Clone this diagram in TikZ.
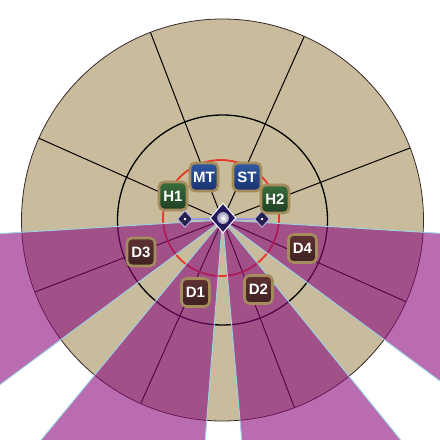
\documentclass[tikz,border=0pt]{standalone}
\usepackage{fontspec}
\setmainfont{Liberation Sans}
\usetikzlibrary{shapes.geometric}

\definecolor{sand}{HTML}{C8BC9C}
\definecolor{rim}{HTML}{3A2A2A}
\definecolor{plum}{HTML}{8A0A7B}
\definecolor{wedgeline}{HTML}{9AD4E6}
\definecolor{ringred}{HTML}{E8382A}
\definecolor{frame}{HTML}{A58C5C}
\definecolor{healtop}{HTML}{3A6E3C}
\definecolor{healbot}{HTML}{1E3E22}
\definecolor{tanktop}{HTML}{2F58A0}
\definecolor{tankbot}{HTML}{1A3270}
\definecolor{dpstop}{HTML}{5E3232}
\definecolor{dpsbot}{HTML}{3E2020}
\definecolor{marker}{HTML}{262050}
\definecolor{bossfill}{HTML}{24185A}
\definecolor{glow}{HTML}{9A98D8}

\tikzset{
  role/.style={draw=frame, line width=2.6pt, rounded corners=5pt, inner sep=0,
    minimum size=28pt, text=white, font=\fontsize{15}{15}\selectfont\bfseries},
  healer/.style={role, top color=healtop, bottom color=healbot},
  tank/.style={role, top color=tanktop, bottom color=tankbot},
  dps/.style={role, top color=dpstop, bottom color=dpsbot},
  pad/.style={diamond, inner sep=0, minimum width=15pt, minimum height=17pt,
    fill=marker, draw=glow!70!white, line width=.9pt,
    path picture={\fill[white] (path picture bounding box.center) circle (1.3pt);}},
  boss/.style={diamond, inner sep=0, minimum width=26pt, minimum height=30pt,
    fill=bossfill, draw=white!85!glow, line width=1.1pt,
    path picture={\shade[inner color=white, outer color=bossfill]
      (path picture bounding box.center) circle (6pt);}},
  aoe/.style={fill=plum, fill opacity=.6, draw=wedgeline, line width=.9pt},
}

\begin{document}
\begin{tikzpicture}[x=1pt, y=1pt]
  \useasboundingbox (0,0) rectangle (440,440);
  \clip (0,0) rectangle (440,440);
  \coordinate (ctr) at (222.5,220);

  % Arena
  \fill[sand] (ctr) circle (201);
  \draw[black, line width=1.3pt] (ctr) circle (105);
  \foreach \a in {21,66,...,336}{%
    \draw[black, line width=1pt] (ctr) -- ++(\a:201);
  };
  \draw[rim, line width=.8pt] (ctr) circle (201);
  \draw[ringred, line width=1.8pt] (221,222) circle (58);

  % Cleaves
  \foreach \a/\b in {183.5/216.5, 230.5/265.5, 275/309, 323.5/356.5}{%
    \filldraw[aoe] (ctr) -- ([shift={(\a:650)}]ctr) -- ([shift={(\b:650)}]ctr) -- cycle;
  };

  % Boss and markers
  \coordinate (padL) at (185,221);
  \coordinate (padR) at (262,221);
  \draw[glow, line width=1.6pt] (padL) -- (padR);
  \node[pad] (markL) at (padL) {};
  \node[pad] (markR) at (padR) {};
  \node[boss] (boss) at (223,222) {};

  % Party
  \node[healer] (h1) at (173,244) {H1};
  \node[tank] (mt) at (204,263) {MT};
  \node[tank] (st) at (247,263) {ST};
  \node[healer] (h2) at (275,241) {H2};
  \node[dps] (d3) at (141,188) {D3};
  \node[dps] (d1) at (195.5,147.5) {D1};
  \node[dps] (d2) at (258.5,150.5) {D2};
  \node[dps] (d4) at (302.5,191.5) {D4};
\end{tikzpicture}
\end{document}
